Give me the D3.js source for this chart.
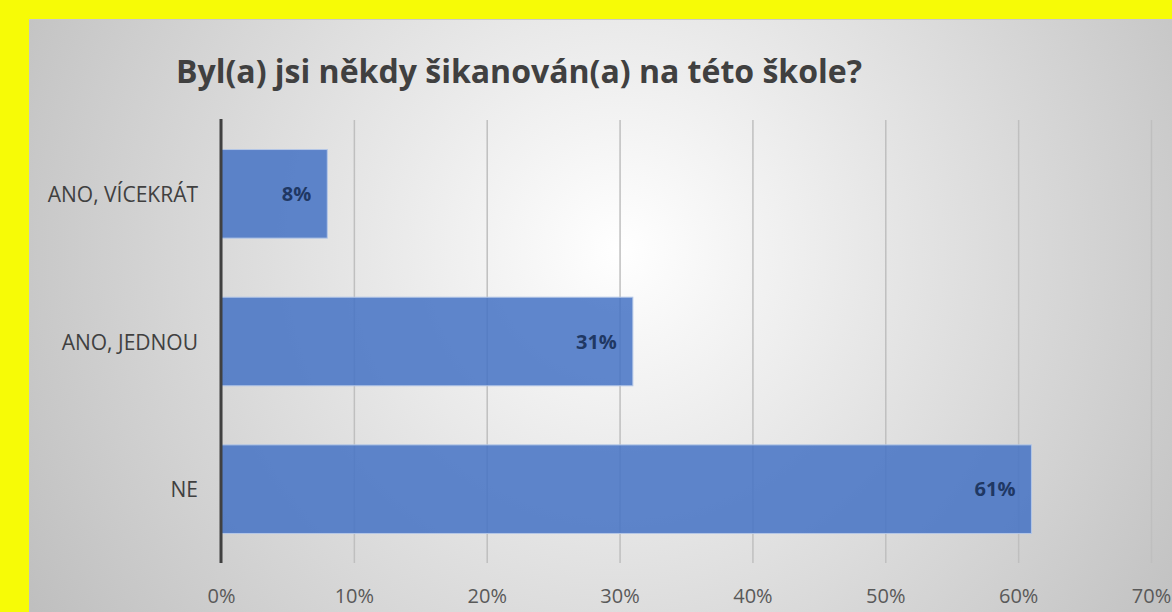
<!DOCTYPE html>
<meta charset="utf-8">
<head>
<script src="https://d3js.org/d3.v7.min.js"></script>
<style>
  body { margin: 0; background: #f7fb06; overflow: hidden; }
  svg { display: block; font-family: "Open Sans", sans-serif; }
</style>
</head>
<body>
<div id="chart"></div>
<script>
    // data
    var categories = ["ANO, VÍCEKRÁT", "ANO, JEDNOU", "NE"];
    var values = [8, 31, 61];
    var tickValues = [0, 10, 20, 30, 40, 50, 60, 70];
    var title = "Byl(a) jsi někdy šikanován(a) na této škole?";

    var W = 1172, H = 612;
    var margin = {top: 120, right: 21, bottom: 49, left: 221};
    var width = W - margin.left - margin.right,
        height = H - margin.top - margin.bottom;

    var svg = d3.select("#chart").append("svg")
        .attr("width", W)
        .attr("height", H);

    // panel background with radial gradient
    var grad = svg.append("defs").append("radialGradient")
        .attr("id", "bg")
        .attr("gradientUnits", "userSpaceOnUse")
        .attr("cx", 620).attr("cy", 250).attr("r", 720);
    grad.append("stop").attr("offset", "0%").attr("stop-color", "#ffffff");
    grad.append("stop").attr("offset", "100%").attr("stop-color", "#bcbcbc");

    svg.append("rect")
        .attr("x", 29).attr("y", 19)
        .attr("width", W - 29).attr("height", H - 19)
        .attr("fill", "url(#bg)");
    svg.append("line")
        .attr("x1", 29).attr("x2", W).attr("y1", 19.5).attr("y2", 19.5)
        .attr("stroke", "#c8c8c8");

    svg.append("text")
        .attr("x", 176).attr("y", 83)
        .attr("font-size", 32)
        .attr("font-weight", "bold")
        .attr("fill", "#404040")
        .attr("textLength", 686)
        .attr("lengthAdjust", "spacingAndGlyphs")
        .text(title);

    var g = svg.append("g")
        .attr("transform", "translate(" + margin.left + "," + margin.top + ")");

    var x = d3.scaleLinear().domain([0, 70]).range([0, 930]);
    var y = d3.scaleBand().domain(categories).range([0, height])
        .paddingInner(0.4).paddingOuter(0.2);

    // gridlines + tick labels
    g.append("g")
        .attr("transform", "translate(0," + height + ")")
        .call(d3.axisBottom(x).tickValues(tickValues).tickSize(-height)
            .tickFormat(function (d) { return d + "%"; }))
        .call(function (a) {
            a.select(".domain").remove();
            a.selectAll(".tick line").attr("stroke", "#bfbfbf").attr("stroke-width", 1.5);
            a.selectAll(".tick text")
                .attr("y", 26)
                .attr("font-size", 20)
                .attr("fill", "#595959")
                .attr("font-family", "Open Sans, sans-serif");
        });

    g.selectAll(".bar")
        .data(values)
        .enter().append("rect")
        .attr("class", "bar")
        .attr("x", 0)
        .attr("y", function (d, i) { return y(categories[i]); })
        .attr("width", function (d) { return x(d); })
        .attr("height", y.bandwidth())
        .attr("fill", "#4472c4")
        .attr("fill-opacity", 0.85)
        .attr("stroke", "#b4c7e7")
        .attr("stroke-width", 1);

    g.selectAll(".lbl")
        .data(values)
        .enter().append("text")
        .attr("class", "lbl")
        .attr("x", function (d) { return x(d) - 16; })
        .attr("y", function (d, i) { return y(categories[i]) + y.bandwidth() / 2 + 7; })
        .attr("text-anchor", "end")
        .attr("font-size", 20)
        .attr("font-weight", "bold")
        .attr("fill", "#1f3864")
        .text(function (d) { return d + "%"; });

    // category labels
    g.selectAll(".cat")
        .data(categories)
        .enter().append("text")
        .attr("class", "cat")
        .attr("x", -23)
        .attr("y", function (d) { return y(d) + y.bandwidth() / 2 + 8; })
        .attr("text-anchor", "end")
        .attr("font-size", 21)
        .attr("fill", "#404040")
        .text(function (d) { return d; });

    // thick zero axis
    g.append("line")
        .attr("x1", 0).attr("x2", 0)
        .attr("y1", -1).attr("y2", height)
        .attr("stroke", "#404040")
        .attr("stroke-width", 3);
</script>
</body>
